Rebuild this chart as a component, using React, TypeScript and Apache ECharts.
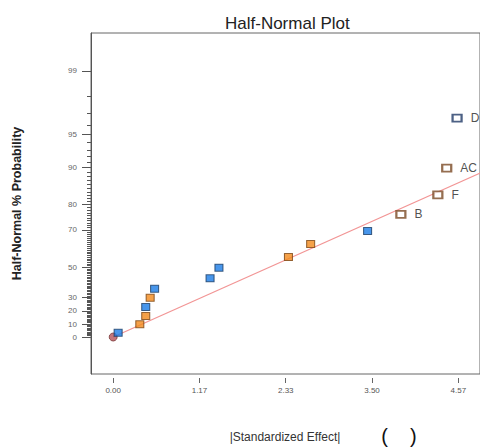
import React, { useEffect, useRef } from "react";
import * as echarts from "echarts";

// x-axis ticks (|Standardized Effect|)
const xTickValues = [0, 1.1667, 2.3333, 3.5, 4.6667];
const xTickLabels = ["0.00", "1.17", "2.33", "3.50", "4.57"];

// y-axis probability ticks (%)
const yMajorProbs = [0, 10, 20, 30, 50, 70, 80, 90, 95, 99];
const yMinorProbs = Array.from({ length: 98 }, (_, i) => i + 1);

// points: [effect, probability %]
const bluePoints = [
  [0.067, 3.3],
  [0.44, 22.8],
  [0.56, 36.0],
  [1.31, 43.0],
  [1.43, 49.8],
  [3.44, 69.5],
];
const orangePoints = [
  [0.36, 9.8],
  [0.44, 16.1],
  [0.5, 29.6],
  [2.37, 56.1],
  [2.67, 63.2],
];
const originPoint = [[0, 0]];
const brownNames = ["B", "F", "AC"];
const brownPoints = [
  [3.89, 76.5],
  [4.39, 83.1],
  [4.51, 89.8],
];
const navyNames = ["D"];
const navyPoints = [[4.65, 96.6]];

// fitted line: z = slope * effect
const lineSlope = 0.32;
const lineEffects = [0, 5.6];

// inverse standard normal (Acklam)
function normInv(p: number): number {
  const a = [-3.969683028665376e1, 2.209460984245205e2, -2.759285104469687e2, 1.38357751867269e2, -3.066479806614716e1, 2.506628277459239];
  const b = [-5.447609879822406e1, 1.615858368580409e2, -1.556989798598866e2, 6.680131188771972e1, -1.328068155288572e1];
  const c = [-7.784894002430293e-3, -3.223964580411365e-1, -2.400758277161838, -2.549732539343734, 4.374664141464968, 2.938163982698783];
  const d = [7.784695709041462e-3, 3.224671290700398e-1, 2.445134137142996, 3.754408661907416];
  const pl = 0.02425;
  if (p <= 0) return -Infinity;
  if (p >= 1) return Infinity;
  let q, r;
  if (p < pl) {
    q = Math.sqrt(-2 * Math.log(p));
    return (((((c[0] * q + c[1]) * q + c[2]) * q + c[3]) * q + c[4]) * q + c[5]) / ((((d[0] * q + d[1]) * q + d[2]) * q + d[3]) * q + 1);
  }
  if (p <= 1 - pl) {
    q = p - 0.5;
    r = q * q;
    return ((((((a[0] * r + a[1]) * r + a[2]) * r + a[3]) * r + a[4]) * r + a[5]) * q) / (((((b[0] * r + b[1]) * r + b[2]) * r + b[3]) * r + b[4]) * r + 1);
  }
  q = Math.sqrt(-2 * Math.log(1 - p));
  return -(((((c[0] * q + c[1]) * q + c[2]) * q + c[3]) * q + c[4]) * q + c[5]) / ((((d[0] * q + d[1]) * q + d[2]) * q + d[3]) * q + 1);
}
// half-normal probability scale
const hz = (pct: number) => (pct <= 0 ? 0 : normInv(0.5 + pct / 200));
const toXY = (pts: number[][]) => pts.map(([e, p]) => [e, hz(p)]);

const FONT = "'Liberation Sans', Arial, sans-serif";

export default function App() {
  const ref = useRef<HTMLDivElement>(null);
  useEffect(() => {
    if (!ref.current) return;
    const chart = echarts.init(ref.current, null, { renderer: "svg" });
    const yMajorZ = yMajorProbs.map(hz);
    const yMinorZ = yMinorProbs.map(hz);
    const yMin = -0.358;
    const yMax = 2.943;
    const labelStyle = { show: true, position: "right", distance: 8, color: "#222", fontSize: 12, fontFamily: FONT, formatter: "{b}" };
    chart.setOption({
      animation: false,
      backgroundColor: "#fff",
      title: {
        text: "Half-Normal Plot",
        left: 220,
        top: 10,
        textStyle: { fontFamily: FONT, fontSize: 17, fontWeight: "normal", color: "#222" },
      },
      grid: {
        left: 91,
        top: 33,
        width: 390,
        height: 341,
        show: true,
        borderColor: "#666",
        borderWidth: 1,
        containLabel: false,
      },
      xAxis: {
        type: "value",
        min: -0.3,
        max: 4.96,
        offset: 4,
        axisLine: { show: false, onZero: false },
        splitLine: { show: false },
        axisTick: { show: true, inside: false, length: 5, customValues: xTickValues, lineStyle: { color: "#666" } },
        axisLabel: {
          show: true,
          customValues: xTickValues,
          margin: 8,
          fontSize: 8,
          color: "#555",
          fontFamily: FONT,
          formatter: (v: number) => {
            let best = 0;
            xTickValues.forEach((t, i) => {
              if (Math.abs(t - v) < Math.abs(xTickValues[best] - v)) best = i;
            });
            return xTickLabels[best];
          },
        },
      },
      yAxis: [
        {
          type: "value",
          min: yMin,
          max: yMax,
          name: "Half-Normal % Probability",
          nameLocation: "middle",
          nameGap: 68,
          nameTextStyle: { fontFamily: FONT, fontSize: 12.5, fontWeight: "bold", color: "#222" },
          axisLine: { show: true, onZero: false, lineStyle: { color: "#555" } },
          splitLine: { show: false },
          axisTick: { show: true, inside: false, length: 9, customValues: yMajorZ, lineStyle: { color: "#555" } },
          axisLabel: {
            show: true,
            customValues: yMajorZ,
            margin: 14,
            fontSize: 8,
            color: "#666",
            fontFamily: FONT,
            formatter: (v: number) => {
              let best = 0;
              yMajorZ.forEach((t, i) => {
                if (Math.abs(t - v) < Math.abs(yMajorZ[best] - v)) best = i;
              });
              return String(yMajorProbs[best]);
            },
          },
        },
        {
          type: "value",
          min: yMin,
          max: yMax,
          position: "left",
          axisLine: { show: false, onZero: false },
          splitLine: { show: false },
          axisTick: { show: true, inside: false, length: 4, customValues: yMinorZ, lineStyle: { color: "#555" } },
          axisLabel: { show: false },
        },
      ],
      series: [
        {
          type: "line",
          data: lineEffects.map((e) => [e, e * lineSlope]),
          showSymbol: false,
          symbol: "none",
          lineStyle: { color: "#f29595", width: 1.2 },
          z: 1,
          silent: true,
        },
        {
          type: "scatter",
          data: toXY(originPoint),
          symbol: "circle",
          symbolSize: 8,
          itemStyle: { color: "#b4545a", borderColor: "#7a3a3a", borderWidth: 1 },
          z: 2,
        },
        {
          type: "scatter",
          data: toXY(bluePoints),
          symbol: "rect",
          symbolSize: [8, 7],
          itemStyle: { color: "#1a7ce6", borderColor: "#1d3e66", borderWidth: 1 },
          z: 3,
        },
        {
          type: "scatter",
          data: toXY(orangePoints),
          symbol: "rect",
          symbolSize: [8, 7],
          itemStyle: { color: "#f28a1c", borderColor: "#7c4614", borderWidth: 1 },
          z: 3,
        },
        {
          type: "scatter",
          data: toXY(brownPoints).map((v, i) => ({ name: brownNames[i], value: v })),
          symbol: "rect",
          symbolSize: [9, 7],
          itemStyle: { color: "#fff", borderColor: "#7a4a24", borderWidth: 2 },
          label: labelStyle,
          z: 3,
        },
        {
          type: "scatter",
          data: toXY(navyPoints).map((v, i) => ({ name: navyNames[i], value: v })),
          symbol: "rect",
          symbolSize: [9, 7],
          itemStyle: { color: "#fff", borderColor: "#203a66", borderWidth: 2 },
          label: labelStyle,
          z: 3,
        },
      ],
      graphic: [
        {
          type: "text",
          x: 285,
          y: 437,
          style: {
            text: "|Standardized Effect|",
            fontFamily: FONT,
            fontSize: 12,
            fill: "#333",
            textAlign: "center",
            textVerticalAlign: "middle",
          },
        },
        {
          type: "text",
          x: 399,
          y: 436,
          style: {
            text: "(    )",
            fontFamily: FONT,
            fontSize: 20,
            fill: "#111",
            textAlign: "center",
            textVerticalAlign: "middle",
          },
        },
      ],
    });
    return () => chart.dispose();
  }, []);
  return <div ref={ref} style={{ position: "fixed", left: 0, top: 0, width: 480, height: 447 }} />;
}
